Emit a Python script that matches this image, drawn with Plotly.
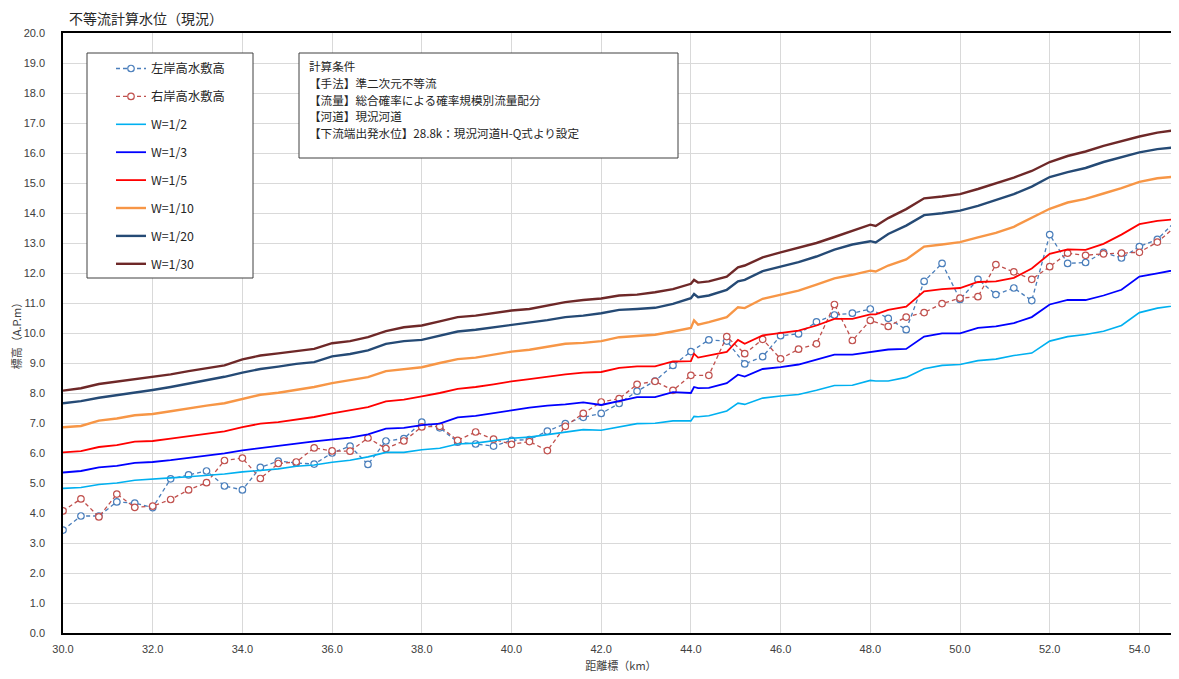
import plotly.graph_objects as go

# ---------------- data ----------------
dist_bank = [round(30.0 + 0.4 * i, 1) for i in range(63)]  # 30.0 .. 54.8 km (0.4 km pitch)

left_bank = [3.43, 3.90, 3.90, 4.37, 4.33, 4.18, 5.14, 5.27, 5.40, 4.90, 4.77, 5.52, 5.73, 5.67, 5.63, 6.00,
             6.23, 5.62, 6.40, 6.48, 7.03, 6.84, 6.36, 6.30, 6.23, 6.42, 6.45, 6.73, 6.98, 7.19, 7.32, 7.65,
             8.06, 8.40, 8.92, 9.38, 9.77, 9.73, 8.97, 9.21, 9.91, 9.97, 10.37, 10.60, 10.66, 10.80, 10.49, 10.11,
             11.72, 12.32, 11.12, 11.79, 11.28, 11.50, 11.08, 13.28, 12.32, 12.35, 12.69, 12.50, 12.88, 13.12, 13.72]

right_bank = [4.07, 4.47, 3.87, 4.63, 4.19, 4.23, 4.45, 4.77, 5.01, 5.75, 5.83, 5.15, 5.65, 5.70, 6.17, 6.07,
              6.06, 6.50, 6.15, 6.40, 6.87, 6.89, 6.42, 6.70, 6.46, 6.29, 6.38, 6.08, 6.89, 7.32, 7.70, 7.81,
              8.29, 8.39, 8.09, 8.59, 8.59, 9.88, 9.31, 9.79, 9.14, 9.46, 9.64, 10.95, 9.75, 10.42, 10.22, 10.53,
              10.68, 10.98, 11.16, 11.21, 12.28, 12.04, 11.79, 12.21, 12.66, 12.59, 12.64, 12.66, 12.69, 13.03, 13.54]

dist_w = [30.0, 30.4, 30.8, 31.2, 31.6, 32.0, 32.4, 32.8, 33.2, 33.6, 34.0, 34.4, 34.8, 35.2, 35.6, 36.0,
          36.4, 36.8, 37.2, 37.6, 38.0, 38.4, 38.8, 39.2, 39.6, 40.0, 40.4, 40.8, 41.2, 41.6, 42.0, 42.4,
          42.8, 43.2, 43.6, 44.0, 44.07, 44.16, 44.4, 44.8, 45.05, 45.2, 45.6, 46.0, 46.4, 46.8, 47.2, 47.6,
          48.0, 48.12, 48.4, 48.8, 49.2, 49.6, 50.0, 50.4, 50.8, 51.2, 51.6, 52.0, 52.4, 52.8, 53.2, 53.6,
          54.0, 54.4, 54.8, 55.0]

w_2 = [4.82, 4.85, 4.95, 5.00, 5.09, 5.12, 5.17, 5.21, 5.25, 5.30, 5.37, 5.42, 5.47, 5.56, 5.60, 5.69,
       5.76, 5.87, 6.02, 6.02, 6.11, 6.16, 6.30, 6.33, 6.42, 6.49, 6.53, 6.62, 6.69, 6.78, 6.76, 6.86,
       6.98, 6.99, 7.07, 7.07, 7.22, 7.21, 7.24, 7.40, 7.66, 7.62, 7.83, 7.90, 7.95, 8.09, 8.25, 8.26,
       8.42, 8.40, 8.40, 8.52, 8.81, 8.92, 8.95, 9.08, 9.13, 9.25, 9.33, 9.73, 9.88, 9.95, 10.06, 10.25,
       10.68, 10.83, 10.91, 10.95]

w_3 = [5.35, 5.40, 5.52, 5.57, 5.67, 5.70, 5.76, 5.83, 5.91, 5.99, 6.09, 6.16, 6.22, 6.31, 6.39, 6.46,
       6.51, 6.62, 6.81, 6.84, 6.93, 6.98, 7.19, 7.24, 7.34, 7.42, 7.51, 7.58, 7.62, 7.69, 7.60, 7.73,
       7.86, 7.86, 8.03, 8.00, 8.20, 8.16, 8.17, 8.33, 8.61, 8.55, 8.80, 8.86, 8.95, 9.11, 9.28, 9.28,
       9.36, 9.40, 9.45, 9.47, 9.88, 9.99, 9.99, 10.17, 10.22, 10.33, 10.53, 10.95, 11.10, 11.10, 11.25, 11.44,
       11.88, 11.99, 12.10, 12.16]

w_5 = [6.02, 6.06, 6.20, 6.26, 6.38, 6.40, 6.48, 6.56, 6.65, 6.72, 6.86, 6.98, 7.03, 7.11, 7.20, 7.32,
       7.42, 7.53, 7.72, 7.78, 7.89, 8.00, 8.14, 8.20, 8.29, 8.39, 8.46, 8.55, 8.62, 8.68, 8.70, 8.84,
       8.89, 8.89, 9.05, 9.06, 9.31, 9.18, 9.26, 9.37, 9.77, 9.64, 9.92, 9.99, 10.08, 10.25, 10.47, 10.47,
       10.62, 10.62, 10.77, 10.88, 11.39, 11.46, 11.50, 11.70, 11.72, 11.84, 12.15, 12.64, 12.79, 12.77, 12.97, 13.28,
       13.63, 13.74, 13.79, 13.88]

w_10 = [6.86, 6.90, 7.08, 7.15, 7.26, 7.30, 7.39, 7.49, 7.58, 7.66, 7.81, 7.94, 8.01, 8.11, 8.20, 8.33,
        8.42, 8.53, 8.73, 8.80, 8.86, 9.00, 9.13, 9.18, 9.29, 9.38, 9.44, 9.55, 9.64, 9.67, 9.73, 9.86,
        9.89, 9.94, 10.05, 10.17, 10.42, 10.28, 10.36, 10.53, 10.86, 10.83, 11.14, 11.27, 11.41, 11.61, 11.82, 11.94,
        12.08, 12.05, 12.25, 12.45, 12.88, 12.95, 13.03, 13.19, 13.34, 13.54, 13.83, 14.14, 14.35, 14.47, 14.65, 14.83,
        15.04, 15.16, 15.21, 15.30]

w_20 = [7.66, 7.73, 7.84, 7.92, 8.02, 8.10, 8.20, 8.31, 8.42, 8.54, 8.68, 8.80, 8.88, 8.97, 9.03, 9.22,
        9.30, 9.42, 9.64, 9.73, 9.77, 9.92, 10.05, 10.11, 10.19, 10.28, 10.34, 10.43, 10.53, 10.58, 10.66, 10.77,
        10.80, 10.84, 10.97, 11.16, 11.30, 11.19, 11.25, 11.44, 11.72, 11.77, 12.06, 12.21, 12.36, 12.55, 12.78, 12.95,
        13.06, 13.02, 13.30, 13.58, 13.93, 13.99, 14.08, 14.24, 14.43, 14.63, 14.88, 15.20, 15.36, 15.50, 15.70, 15.86,
        16.02, 16.13, 16.19, 16.28]

w_30 = [8.08, 8.16, 8.30, 8.38, 8.47, 8.53, 8.62, 8.73, 8.83, 8.92, 9.12, 9.25, 9.32, 9.40, 9.47, 9.66,
        9.73, 9.86, 10.06, 10.19, 10.25, 10.39, 10.53, 10.58, 10.66, 10.75, 10.80, 10.92, 11.03, 11.10, 11.15, 11.25,
        11.28, 11.36, 11.46, 11.64, 11.77, 11.68, 11.72, 11.88, 12.19, 12.25, 12.52, 12.69, 12.85, 13.00, 13.20, 13.40,
        13.61, 13.57, 13.83, 14.13, 14.49, 14.55, 14.63, 14.80, 14.99, 15.18, 15.40, 15.70, 15.90, 16.05, 16.24, 16.40,
        16.55, 16.68, 16.76, 16.85]

bank_names = ["左岸高水敷高", "右岸高水敷高"]
w_names = ["W=1/2", "W=1/3", "W=1/5", "W=1/10", "W=1/20", "W=1/30"]

title_text = "不等流計算水位（現況）"
x_title = "距離標（km）"
y_title = "標高（A.P.m）"
cond_lines = ["計算条件",
              "【手法】準二次元不等流",
              "【流量】総合確率による確率規模別流量配分",
              "【河道】現況河道",
              "【下流端出発水位】28.8k：現況河道H-Q式より設定"]

# ---------------- styles ----------------
JP = "Noto Sans CJK JP, sans-serif"
bank_colors = ["#4A7EBB", "#C0504D"]
w_colors = ["#00B0F0", "#0000FF", "#FF0000", "#F79646", "#254A75", "#6E2828"]
w_widths = [1.6, 1.8, 1.8, 2.4, 2.4, 2.4]

fig = go.Figure()

for name, vals, col in zip(bank_names, [left_bank, right_bank], bank_colors):
    fig.add_trace(go.Scatter(
        x=dist_bank, y=vals, name=name, mode="lines+markers", legendgroup=name,
        line=dict(color=col, width=1.3, dash="4px,3px"),
        marker=dict(symbol="circle", size=6.5, color="white", line=dict(color=col, width=1.2)),
    ))

for name, vals, col, wd in zip(w_names, [w_2, w_3, w_5, w_10, w_20, w_30], w_colors, w_widths):
    fig.add_trace(go.Scatter(
        x=dist_w, y=vals, name=name, mode="lines", legendgroup=name,
        line=dict(color=col, width=wd),
    ))

# The page body adds an 8px offset, so the figure is sized to fill the window from (8, 8).
OFF = 8
W, H = 1179 - OFF, 679 - OFF
L, R, T, B = 63 - OFF, 0, 33 - OFF, 46
PW, PH = W - L - R, H - T - B
# helpers: target window pixel -> paper coordinate
px = lambda x: (x - OFF - L) / PW
py = lambda y: (H - B - (y - OFF)) / PH

shapes = [
    dict(type="rect", xref="paper", yref="paper", x0=px(87), x1=px(253), y0=py(278), y1=py(53),
         line=dict(color="#404040", width=1), fillcolor="white", layer="above"),
    dict(type="rect", xref="paper", yref="paper", x0=px(299), x1=px(678), y0=py(158), y1=py(53),
         line=dict(color="#404040", width=1), fillcolor="white", layer="above"),
]

annotations = [
    dict(text=title_text, xref="paper", yref="paper", x=px(67), y=py(18), xanchor="left", yanchor="middle",
         showarrow=False, font=dict(family=JP, size=14, color="#262626")),
]
for i, ln in enumerate(cond_lines):
    annotations.append(dict(text=ln, xref="paper", yref="paper", x=px(307), y=py(66 + 16.8 * i),
                            xanchor="left", yanchor="middle", showarrow=False,
                            font=dict(family=JP, size=11.6, color="#262626")))

fig.update_layout(
    width=W, height=H,
    margin=dict(l=L, r=R, t=T, b=B, autoexpand=False),
    paper_bgcolor="white", plot_bgcolor="white",
    font=dict(family=JP, size=11, color="#404040"),
    showlegend=True,
    legend=dict(x=px(111), y=py(54), xanchor="left", yanchor="top", bgcolor="rgba(0,0,0,0)",
                borderwidth=0, traceorder="grouped", tracegroupgap=8.9,
                font=dict(family=JP, size=12.3, color="#262626")),
    shapes=shapes, annotations=annotations,
    xaxis=dict(range=[30, 30 + PW / 44.85], tick0=30, dtick=2, tickformat=".1f",
               showgrid=True, gridcolor="#D9D9D9", gridwidth=1, zeroline=False,
               showline=True, linecolor="#000000", linewidth=1.5, mirror=True,
               ticks="", ticklabelstandoff=5, automargin=False,
               tickfont=dict(family="Liberation Sans", size=11, color="#404040"),
               title=dict(text=x_title, standoff=8, font=dict(family=JP, size=11, color="#404040"))),
    yaxis=dict(range=[0, 20], tick0=0, dtick=1, tickformat=".1f",
               showgrid=True, gridcolor="#D9D9D9", gridwidth=1, zeroline=False,
               showline=True, linecolor="#000000", linewidth=1.5,
               ticks="", ticklabelstandoff=14, automargin=False,
               tickfont=dict(family="Liberation Sans", size=11, color="#404040"),
               title=dict(text=y_title, standoff=6, font=dict(family=JP, size=11, color="#404040"))),
)

fig.write_html("out.html")
